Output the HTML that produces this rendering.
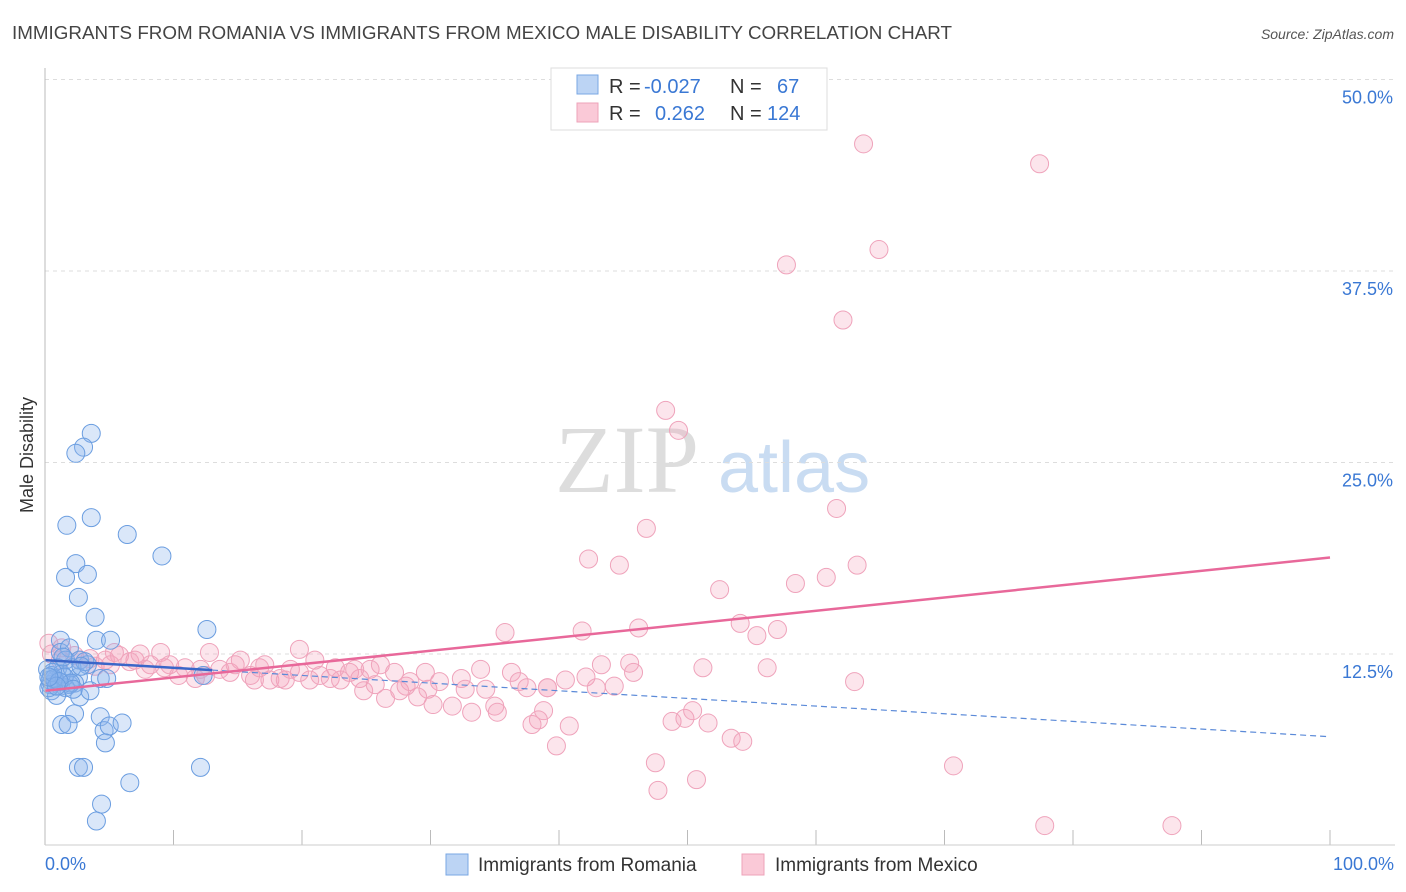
<!DOCTYPE html>
<html><head><meta charset="utf-8"><style>
body{margin:0;background:#fff;font-family:"Liberation Sans",sans-serif;}
svg{display:block}
</style></head><body>
<svg width="1406" height="892" id="chart">
<text x="12" y="39" font-size="18" fill="#444" textLength="940" lengthAdjust="spacingAndGlyphs">IMMIGRANTS FROM ROMANIA VS IMMIGRANTS FROM MEXICO MALE DISABILITY CORRELATION CHART</text>
<text x="1394" y="39" font-size="14" fill="#555" font-style="italic" text-anchor="end">Source: ZipAtlas.com</text>
<text x="555" y="492" font-size="96" fill="#ddd" font-family="Liberation Serif,serif">ZIP</text>
<text x="718" y="492" font-size="72" fill="#c9dcf2">atlas</text>
<text transform="translate(33,455) rotate(-90)" font-size="18" fill="#333" text-anchor="middle">Male Disability</text>
<g id="grid"></g><g id="pts"></g><g id="lines"></g>
<line x1="45" y1="68" x2="45" y2="845" stroke="#bbb"/>
<line x1="45" y1="845" x2="1395" y2="845" stroke="#ccc"/>
<text x="45" y="870" font-size="18" fill="#3a78d4">0.0%</text>
<text x="1394" y="870" font-size="18" fill="#3a78d4" text-anchor="end">100.0%</text>
<g>
<rect x="551" y="68" width="276" height="62" fill="#fff" stroke="#ddd"/>
<rect x="577" y="75" width="21" height="19" fill="#bcd4f4" stroke="#7aa7e3"/>
<rect x="577" y="103" width="21" height="19" fill="#fac9d7" stroke="#eea3ba"/>
<text x="609" y="93" font-size="20" fill="#333">R = <tspan x="644" fill="#3a78d4">-0.027</tspan><tspan x="730">N = </tspan><tspan x="777" fill="#3a78d4">67</tspan></text>
<text x="609" y="120" font-size="20" fill="#333">R = <tspan x="655" fill="#3a78d4">0.262</tspan><tspan x="730">N = </tspan><tspan x="767" fill="#3a78d4">124</tspan></text>
</g>
<g><rect x="446" y="854" width="22" height="21" fill="#bcd4f4" stroke="#7aa7e3"/><text x="478" y="871" font-size="19" fill="#333">Immigrants from Romania</text></g>
<g><rect x="742" y="854" width="22" height="21" fill="#fac9d7" stroke="#eea3ba"/><text x="775" y="871" font-size="19" fill="#333">Immigrants from Mexico</text></g>
</svg>
<script>
const yTicks=[12.5,25,37.5,50];
const yTickLabels=["12.5%","25.0%","37.5%","50.0%"];
const xTicks=[0,10,20,30,40,50,60,70,80,90,100];
const romaniaX=[3.6,3.0,2.4,3.6,1.7,6.4,9.1,2.4,1.6,3.3,2.6,3.9,12.6,4.0,5.1,1.2,1.2,1.9,1.6,2.7,3.3,4.3,4.8,2.6,0.8,0.4,1.2,1.9,0.5,2.3,1.6,2.7,4.3,2.3,1.3,1.8,4.6,5.0,6.0,4.7,2.6,3.0,6.6,4.4,4.0,12.1,12.3,0.2,1.0,0.5,1.3,0.9,0.4,2.1,3.1,3.5,0.3,0.7,1.5,2.0,0.6,1.1,2.8,0.9,1.4,0.3,2.2];
const romaniaY=[26.9,26.0,25.6,21.4,20.9,20.3,18.9,18.4,17.5,17.7,16.2,14.9,14.1,13.4,13.4,13.4,12.6,12.9,12.1,12.1,11.8,10.9,10.9,11.0,10.8,10.5,10.4,10.5,10.1,10.6,10.3,9.7,8.4,8.6,7.9,7.9,7.5,7.8,8.0,6.7,5.1,5.1,4.1,2.7,1.6,5.1,11.1,11.5,11.6,11.1,11.2,9.8,10.8,11.6,12.0,10.1,10.3,10.9,11.0,10.6,11.3,10.7,11.7,10.4,12.3,11.0,10.2];
const mexicoX=[63.7,77.4,64.9,57.7,62.1,48.3,49.3,61.6,46.8,42.3,44.7,63.2,60.8,58.4,52.5,54.1,55.4,57.0,46.2,41.8,35.8,19.8,45.5,43.3,51.2,56.2,45.8,63.0,33.9,36.3,39.1,42.1,40.5,42.9,44.3,39.1,36.9,37.5,34.3,32.4,30.7,32.7,29.8,29.0,28.1,27.6,26.5,24.8,30.2,31.7,35.0,33.2,35.2,38.8,38.4,37.9,40.8,39.8,48.8,49.8,50.4,51.6,53.4,54.3,47.5,50.7,47.7,70.7,77.8,87.7,0.5,1.2,2.3,3.5,4.7,5.8,7.0,8.2,9.0,9.7,10.9,12.1,12.8,13.6,14.4,15.2,16.0,16.7,17.5,18.3,19.1,19.8,20.6,21.4,22.2,23.0,23.7,24.5,25.3,26.1,27.2,28.4,29.6,5.4,6.6,7.8,9.3,11.7,16.3,18.7,21.0,22.6,24.1,25.7,1.3,2.7,3.9,5.1,7.4,10.4,12.5,14.8,17.1,0.3];
const mexicoY=[45.8,44.5,38.9,37.9,34.3,28.4,27.1,22.0,20.7,18.7,18.3,18.3,17.5,17.1,16.7,14.5,13.7,14.1,14.2,14.0,13.9,12.8,11.9,11.8,11.6,11.6,11.3,10.7,11.5,11.3,10.3,11.0,10.8,10.3,10.4,10.3,10.7,10.3,10.2,10.9,10.7,10.2,10.2,9.7,10.4,10.1,9.6,10.1,9.2,9.1,9.1,8.7,8.7,8.8,8.2,7.9,7.8,6.5,8.1,8.3,8.8,8.0,7.0,6.8,5.4,4.3,3.6,5.2,1.3,1.3,12.5,12.1,12.4,12.2,12.1,12.4,12.1,11.8,12.6,11.8,11.6,11.5,12.6,11.5,11.3,12.1,11.1,11.6,10.8,10.9,11.5,11.3,10.8,11.1,10.9,10.8,11.3,10.9,11.5,11.8,11.3,10.7,11.3,12.6,12.0,11.5,11.6,10.9,10.8,10.8,12.1,11.6,11.5,10.5,12.9,12.1,11.7,11.8,12.5,11.1,11.1,11.8,11.8,13.2];
const romaniaTrend=[12.1,7.1];
const mexicoTrend=[10.1,18.8];
const X=v=>45+v*12.85, Y=v=>845.5-v*15.32;
const NS="http://www.w3.org/2000/svg";
function mk(tag,attrs,parent){const e=document.createElementNS(NS,tag);for(const k in attrs)e.setAttribute(k,attrs[k]);document.getElementById(parent).appendChild(e);return e;}
yTicks.forEach((t,i)=>{
 const l=mk('line',{x1:45,x2:1395,y1:Y(t),y2:Y(t),stroke:'#ddd','stroke-dasharray':'4,4'},'grid');
 
 
 const tx=mk('text',{x:1393,y:Y(t)+24,'font-size':18,fill:'#3a78d4','text-anchor':'end'},'grid');
 tx.textContent=yTickLabels[i];
 
 
});
xTicks.forEach(t=>{
 const l=mk('line',{x1:X(t),x2:X(t),y1:830,y2:845,stroke:'#bbb'},'grid');
 
 
});
mexicoX.forEach((x,i)=>{
 const c=mk('circle',{cx:X(x),cy:Y(mexicoY[i]),r:9,fill:'rgba(244,160,185,0.28)',stroke:'#efa3bb','stroke-width':1},'pts');
 
 
});
romaniaX.forEach((x,i)=>{
 const c=mk('circle',{cx:X(x),cy:Y(romaniaY[i]),r:9,fill:'rgba(140,180,235,0.32)',stroke:'#6a9de0','stroke-width':1},'pts');
 
 
});
const rAt=v=>romaniaTrend[0]+(romaniaTrend[1]-romaniaTrend[0])*v/100;
let l1=mk('line',{x1:X(0),y1:Y(rAt(0)),x2:X(13),y2:Y(rAt(13)),stroke:'#3a66c8','stroke-width':2.5},'lines');


let l2=mk('line',{x1:X(13),y1:Y(rAt(13)),x2:X(100),y2:Y(rAt(100)),stroke:'#5b8ad8','stroke-width':1.2,'stroke-dasharray':'6,4'},'lines');


let l3=mk('line',{x1:X(0),y1:Y(mexicoTrend[0]),x2:X(100),y2:Y(mexicoTrend[1]),stroke:'#e8689a','stroke-width':2.5},'lines');


</script>
</body></html>
